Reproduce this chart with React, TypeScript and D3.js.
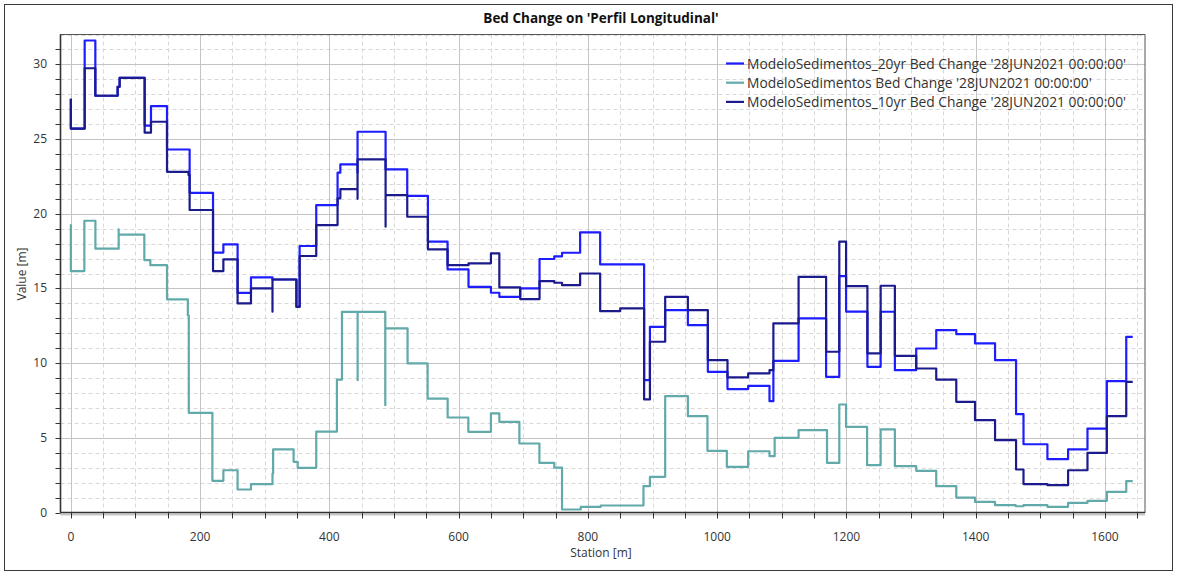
import React, { useEffect, useRef } from "react";
import * as d3 from "d3";

// bed change profiles: [station, value] break points (step after)
const yr20: [number, number][] = [
  [0, 27.7], [0, 25.7], [21.4, 31.6], [37.9, 27.9], [72.4, 28.5], [75.5, 29.1],
  [114.2, 25.9], [124, 27.2], [148.8, 24.3], [183.8, 21.4], [220, 17.4], [236, 17.95],
  [258, 14.7], [278.7, 15.74], [312, 15.6], [349, 13.77], [354, 17.84], [379.7, 20.58],
  [412.7, 22.75], [417, 23.3], [443.6, 22.75], [443.6, 25.49], [487, 22.97], [520.5, 21.19],
  [552.5, 18.13], [582.9, 16.27], [615.3, 15.11], [650, 14.71], [663, 14.44], [695.3, 15.0],
  [725.2, 16.97], [748, 17.15], [760, 17.39], [788, 18.75], [819, 16.61], [887, 8.86],
  [896, 12.43], [919.6, 13.55], [954.7, 12.55], [985.6, 9.42], [1016, 8.26], [1048, 8.48],
  [1081, 7.45], [1087, 10.15], [1126, 12.99], [1168.6, 9.08], [1189, 15.83], [1199.5, 13.45],
  [1232.5, 9.75], [1253, 13.44], [1275, 9.53], [1308, 10.98], [1339, 12.21], [1370, 11.94],
  [1399, 11.32], [1430, 10.2], [1462.5, 6.58], [1474, 4.57], [1511, 3.57], [1543, 4.22],
  [1573, 5.62], [1603, 8.79], [1633, 11.76], [1643, 11.76],
];

const base: [number, number][] = [
  [0, 19.3], [0, 16.16], [20.9, 19.53], [38, 17.66], [74, 18.96], [74, 18.6],
  [113.7, 16.9], [123, 16.56], [148.8, 14.27], [181, 13.2], [182.5, 6.67], [219, 2.12],
  [236, 2.83], [258, 1.54], [278.7, 1.9], [312, 2.61], [313, 4.22], [344.7, 3.39],
  [351, 2.99], [379.7, 5.42], [411.7, 8.9], [419.5, 13.43], [443.7, 8.86], [443.7, 13.43],
  [486.5, 7.18], [486.5, 12.32], [521, 9.98], [552, 7.63], [583, 6.36], [615, 5.4],
  [650, 6.63], [663, 6.07], [694, 4.62], [725, 3.32], [748, 3.0], [760, 0.2],
  [789, 0.38], [820, 0.47], [886, 1.76], [896, 2.39], [919.6, 7.79], [954.7, 6.45],
  [985, 4.13], [1015, 3.06], [1048, 4.1], [1081, 3.77], [1089, 5.0], [1126, 5.51],
  [1170, 3.32], [1189, 7.23], [1199.5, 5.73], [1232, 3.17], [1253, 5.56], [1275, 3.1],
  [1308, 2.79], [1339, 1.76], [1370, 1.0], [1399, 0.71], [1430, 0.49], [1462, 0.42],
  [1474, 0.49], [1511, 0.38], [1543, 0.64], [1573, 0.78], [1603, 1.38], [1633, 2.1],
  [1643, 2.1],
];

const yr10: [number, number][] = [
  [0, 27.7], [0, 25.7], [21.4, 29.74], [37.9, 27.9], [72.4, 28.5], [75.5, 29.1],
  [114.2, 25.43], [124, 26.16], [148.8, 22.81], [182, 22.6], [183.8, 20.25], [220, 16.16],
  [236, 16.95], [258, 14.0], [278.7, 15.0], [312, 13.44], [312, 15.6], [349, 13.77],
  [354, 17.17], [379.7, 19.24], [412.7, 21.03], [417, 21.65], [443.6, 21.0], [443.6, 23.64],
  [487, 19.13], [487, 21.25], [520.5, 19.8], [552.5, 17.61], [582.9, 16.56], [615.3, 16.68],
  [650, 17.35], [663, 15.07], [695.3, 14.29], [725.2, 15.49], [748, 15.38], [760, 15.22],
  [788, 16.0], [819, 13.48], [850, 13.66], [887, 7.57], [896, 11.43], [919.6, 14.44],
  [954.7, 13.55], [985.6, 10.2], [1016, 9.04], [1048, 9.31], [1081, 9.53], [1087, 12.66],
  [1126, 15.78], [1168.6, 10.76], [1189, 18.13], [1199.5, 15.16], [1232.5, 10.65], [1253, 15.18],
  [1275, 10.49], [1308, 9.64], [1339, 8.9], [1370, 7.41], [1399, 6.18], [1430, 4.84],
  [1462.5, 2.88], [1474, 1.9], [1511, 1.83], [1543, 2.83], [1573, 3.99], [1603, 6.45],
  [1633, 8.75], [1643, 8.75],
];

const seriesNames = [
  "ModeloSedimentos_20yr Bed Change '28JUN2021 00:00:00'",
  "ModeloSedimentos Bed Change '28JUN2021 00:00:00'",
  "ModeloSedimentos_10yr Bed Change '28JUN2021 00:00:00'",
];
const seriesColors = ["#1d1dff", "#62a9a9", "#1b1b8e"];

const xLabels = [0, 200, 400, 600, 800, 1000, 1200, 1400, 1600];
const yLabels = [0, 5, 10, 15, 20, 25, 30];

const W = 1178;
const H = 574;
const font = "'Open Sans', 'Noto Sans', sans-serif";

export default function App() {
  const ref = useRef<SVGSVGElement>(null);

  useEffect(() => {
    document.body.style.margin = "0";
    const svg = d3.select(ref.current);
    svg.selectAll("*").remove();

    const left = 60.5, right = 1145, top = 34.5, bottom = 512.5;
    const x = d3.scaleLinear().domain([-16, 1662]).range([left, right]);
    const y = d3.scaleLinear().domain([0, 32]).range([bottom, top]);

    // outer frame
    svg.append("rect").attr("x", 0).attr("y", 0).attr("width", W).attr("height", H).attr("fill", "white");
    svg.append("rect")
      .attr("x", 4.5).attr("y", 4.5).attr("width", 1168).attr("height", 566)
      .attr("fill", "none").attr("stroke", "#3a3a3a").attr("stroke-width", 1);

    // title
    svg.append("text")
      .attr("x", 601).attr("y", 23)
      .attr("text-anchor", "middle")
      .style("font-family", font).style("font-size", "13.5px").style("font-weight", "700")
      .attr("fill", "#111")
      .text("Bed Change on 'Perfil Longitudinal'");

    const g = svg.append("g");

    // minor grid
    const xMinor = d3.range(0, 1651, 50).filter((v) => v % 200 !== 0);
    const yMinor = d3.range(0, 33, 1).filter((v) => v % 5 !== 0);
    g.selectAll(".xm").data(xMinor).join("line")
      .attr("x1", (d) => Math.round(x(d)) + 0.5).attr("x2", (d) => Math.round(x(d)) + 0.5)
      .attr("y1", top).attr("y2", bottom)
      .attr("stroke", "#d8d8d8").attr("stroke-dasharray", "4,3");
    g.selectAll(".ym").data(yMinor).join("line")
      .attr("y1", (d) => Math.round(y(d)) + 0.5).attr("y2", (d) => Math.round(y(d)) + 0.5)
      .attr("x1", left).attr("x2", right)
      .attr("stroke", "#d8d8d8").attr("stroke-dasharray", "4,3");

    // major grid
    g.selectAll(".xg").data(xLabels).join("line")
      .attr("x1", (d) => Math.round(x(d)) + 0.5).attr("x2", (d) => Math.round(x(d)) + 0.5)
      .attr("y1", top).attr("y2", bottom)
      .attr("stroke", "#c4c4c4");
    g.selectAll(".yg").data(yLabels.filter((d) => d > 0)).join("line")
      .attr("y1", (d) => Math.round(y(d)) + 0.5).attr("y2", (d) => Math.round(y(d)) + 0.5)
      .attr("x1", left).attr("x2", right)
      .attr("stroke", "#c4c4c4");

    // plot frame
    g.append("rect")
      .attr("x", left).attr("y", top).attr("width", right - left).attr("height", bottom - top)
      .attr("fill", "none").attr("stroke", "#555");
    g.append("line").attr("x1", left).attr("x2", right).attr("y1", bottom + 2).attr("y2", bottom + 2)
      .attr("stroke", "#c8c8c8").attr("stroke-width", 2);
    g.append("line").attr("x1", left).attr("x2", right).attr("y1", bottom).attr("y2", bottom)
      .attr("stroke", "#333").attr("stroke-width", 1.6);
    g.append("line").attr("x1", left).attr("x2", left).attr("y1", top).attr("y2", bottom)
      .attr("stroke", "#333").attr("stroke-width", 1.6);

    // ticks
    g.selectAll(".xt").data(d3.range(0, 1651, 50)).join("line")
      .attr("x1", (d) => Math.round(x(d)) + 0.5).attr("x2", (d) => Math.round(x(d)) + 0.5)
      .attr("y1", bottom).attr("y2", bottom + 6)
      .attr("stroke", "#333");
    g.selectAll(".yt").data(d3.range(0, 32, 1)).join("line")
      .attr("y1", (d) => Math.round(y(d)) + 0.5).attr("y2", (d) => Math.round(y(d)) + 0.5)
      .attr("x1", left - 5).attr("x2", left)
      .attr("stroke", "#333");

    g.selectAll(".xl").data(xLabels).join("text")
      .attr("x", (d) => x(d)).attr("y", 541)
      .attr("text-anchor", "middle")
      .style("font-family", font).style("font-size", "12px").attr("fill", "#333")
      .text((d) => d);
    g.selectAll(".yl").data(yLabels).join("text")
      .attr("x", 47).attr("y", (d) => y(d) + 4)
      .attr("text-anchor", "end")
      .style("font-family", font).style("font-size", "12px").attr("fill", "#333")
      .text((d) => d);

    svg.append("text")
      .attr("x", 601).attr("y", 557).attr("text-anchor", "middle")
      .style("font-family", font).style("font-size", "12px").attr("fill", "#333")
      .text("Station [m]");
    svg.append("text")
      .attr("transform", "translate(26,274) rotate(-90)").attr("text-anchor", "middle")
      .style("font-family", font).style("font-size", "12px").attr("fill", "#333")
      .text("Value [m]");

    // series
    const line = d3.line<[number, number]>()
      .x((d) => x(d[0])).y((d) => y(d[1]))
      .curve(d3.curveStepAfter);
    const datasets = [yr20, base, yr10];
    datasets.forEach((data, i) => {
      g.append("path")
        .attr("d", line(data))
        .attr("fill", "none")
        .attr("stroke", seriesColors[i])
        .attr("stroke-width", 2.2)
        .attr("stroke-linejoin", "round");
    });

    // legend
    const lg = svg.append("g");
    seriesNames.forEach((name, i) => {
      const ly = 63.5 + i * 19.2;
      lg.append("line")
        .attr("x1", 726).attr("x2", 744).attr("y1", ly).attr("y2", ly)
        .attr("stroke", seriesColors[i]).attr("stroke-width", 2.2);
      lg.append("text")
        .attr("x", 747).attr("y", ly + 5)
        .style("font-family", font).style("font-size", "13.8px").attr("fill", "#333")
        .text(name);
    });
  }, []);

  return <svg ref={ref} width={W} height={H} style={{ display: "block" }} />;
}
